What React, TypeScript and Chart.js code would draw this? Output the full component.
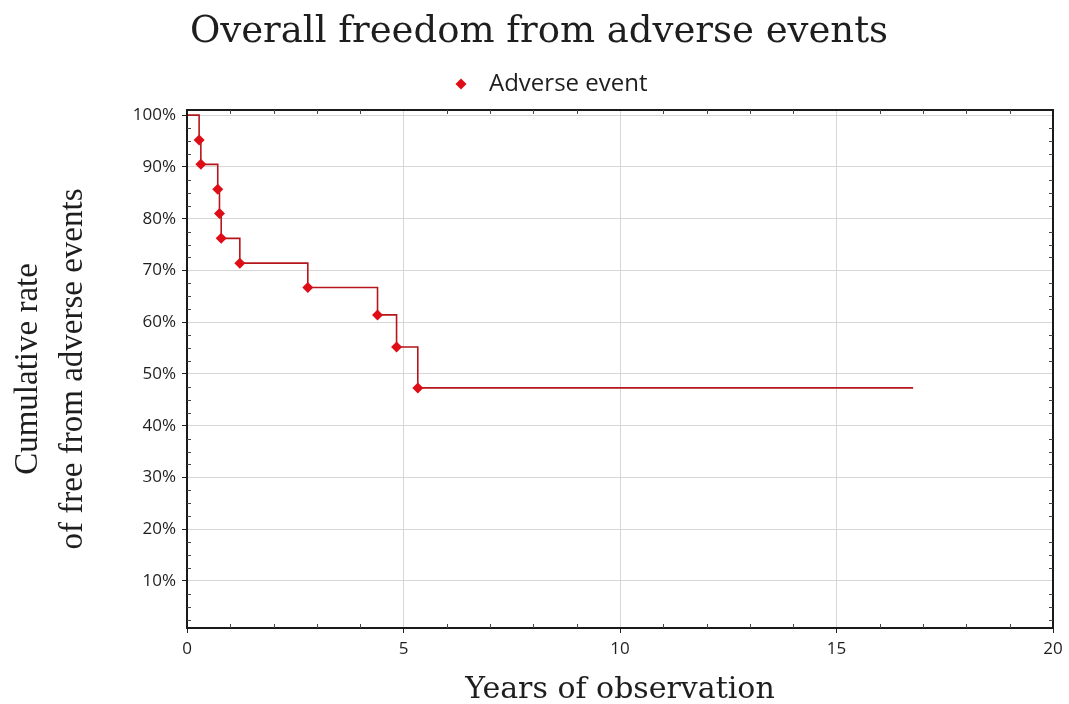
import React, { useEffect, useRef } from "react";
import { Chart, registerables } from "chart.js";

Chart.register(...registerables);

const chartTitle = "Overall freedom from adverse events";
const seriesLabel = "Adverse event";
const xAxisTitle = "Years of observation";
const yAxisTitleLines = ["Cumulative rate", "of free from adverse events"];

// Kaplan–Meier step points (years, % free from adverse events)
const years = [0, 0.28, 0.32, 0.71, 0.75, 0.79, 1.22, 2.79, 4.4, 4.84, 5.33, 16.77];
const freedom = [100, 95.2, 90.5, 85.7, 81.0, 76.2, 71.4, 66.7, 61.4, 55.2, 47.3, 47.3];
const eventMarker = [false, true, true, true, true, true, true, true, true, true, true, false];

const xTickValues = [0, 5, 10, 15, 20];
const yTickValues = [10, 20, 30, 40, 50, 60, 70, 80, 90, 100];
const xMin = 0;
const xMax = 20;
const yMin = 0.9;
const yMax = 101;

const LINE_COLOR = "#b4161b";
const MARKER_COLOR = "#de0d16";
const TEXT_COLOR = "#1e1e1e";

const decorPlugin = {
  id: "decor",
  afterDraw(chart: any) {
    const { ctx, chartArea: a, scales } = chart;
    ctx.save();
    // frame
    ctx.strokeStyle = "#1a1a1a";
    ctx.lineWidth = 2;
    ctx.strokeRect(a.left, a.top, a.right - a.left, a.bottom - a.top);
    // minor ticks
    ctx.lineWidth = 1;
    ctx.strokeStyle = "#444";
    ctx.beginPath();
    for (let v = xMin + 1; v < xMax; v++) {
      if (xTickValues.includes(v)) continue;
      const px = Math.round(scales.x.getPixelForValue(v)) + 0.5;
      ctx.moveTo(px, a.bottom);
      ctx.lineTo(px, a.bottom - 4);
      ctx.moveTo(px, a.top);
      ctx.lineTo(px, a.top + 4);
    }
    for (let v = 2.5; v <= 100; v += 2.5) {
      if (yTickValues.includes(v)) continue;
      const py = Math.round(scales.y.getPixelForValue(v)) + 0.5;
      ctx.moveTo(a.left, py);
      ctx.lineTo(a.left + 4, py);
      ctx.moveTo(a.right, py);
      ctx.lineTo(a.right - 4, py);
    }
    ctx.stroke();

    // title
    ctx.fillStyle = TEXT_COLOR;
    ctx.font = '37px "DejaVu Serif"';
    ctx.textAlign = "center";
    ctx.textBaseline = "alphabetic";
    ctx.fillText(chartTitle, 539, 42);

    // legend
    const lx = 461;
    const ly = 84;
    ctx.fillStyle = MARKER_COLOR;
    ctx.beginPath();
    ctx.moveTo(lx, ly - 5.5);
    ctx.lineTo(lx + 5.5, ly);
    ctx.lineTo(lx, ly + 5.5);
    ctx.lineTo(lx - 5.5, ly);
    ctx.closePath();
    ctx.fill();
    ctx.fillStyle = TEXT_COLOR;
    ctx.font = '24px "Open Sans"';
    ctx.textAlign = "left";
    ctx.textBaseline = "middle";
    ctx.fillText(seriesLabel, 489, ly);

    // x axis title
    ctx.font = '30px "DejaVu Serif"';
    ctx.textAlign = "center";
    ctx.textBaseline = "alphabetic";
    ctx.fillText(xAxisTitle, (a.left + a.right) / 2, 698);

    // y axis title
    ctx.font = '33px "Liberation Serif"';
    const cy = (a.top + a.bottom) / 2;
    const baselines = [37, 82];
    yAxisTitleLines.forEach((line, i) => {
      ctx.save();
      ctx.translate(baselines[i], cy);
      ctx.rotate(-Math.PI / 2);
      ctx.fillText(line, 0, 0);
      ctx.restore();
    });
    ctx.restore();
  },
};

export default function App() {
  const ref = useRef<HTMLCanvasElement | null>(null);
  useEffect(() => {
    document.body.style.margin = "0";
    const canvas = ref.current;
    if (!canvas) return;
    const points = years.map((x, i) => ({ x, y: freedom[i] }));
    const chart = new Chart(canvas, {
      type: "line",
      data: {
        datasets: [
          {
            label: seriesLabel,
            data: points,
            stepped: "before",
            borderColor: LINE_COLOR,
            borderWidth: 1.6,
            backgroundColor: MARKER_COLOR,
            pointBackgroundColor: MARKER_COLOR,
            pointBorderColor: MARKER_COLOR,
            pointStyle: "rectRot",
            pointRadius: eventMarker.map((m) => (m ? 5.5 : 0)),
            pointBorderWidth: 0,
            fill: false,
          },
        ],
      },
      options: {
        responsive: false,
        animation: false,
        layout: { padding: { left: 0, top: 110, right: 16, bottom: 0 } },
        plugins: {
          legend: { display: false },
          title: { display: false },
          tooltip: { enabled: false },
        },
        scales: {
          x: {
            type: "linear",
            min: xMin,
            max: xMax,
            border: { display: false },
            grid: { color: "#d6d6d6", lineWidth: 1, tickLength: 5, tickColor: "#222" },
            ticks: {
              padding: 6,
              color: TEXT_COLOR,
              font: { family: '"Open Sans"', size: 17 },
              maxRotation: 0,
            },
            afterBuildTicks(scale: any) {
              scale.ticks = xTickValues.map((value) => ({ value }));
            },
            afterFit(scale: any) {
              scale.height = 76;
            },
          },
          y: {
            type: "linear",
            min: yMin,
            max: yMax,
            border: { display: false },
            grid: { color: "#d6d6d6", lineWidth: 1, tickLength: 5, tickColor: "#222" },
            ticks: {
              padding: 6,
              color: TEXT_COLOR,
              font: { family: '"Open Sans"', size: 17 },
              callback: (v: any) => `${v}%`,
            },
            afterBuildTicks(scale: any) {
              scale.ticks = yTickValues.map((value) => ({ value }));
            },
            afterFit(scale: any) {
              scale.width = 187;
            },
          },
        },
      },
      plugins: [decorPlugin],
    });
    return () => chart.destroy();
  }, []);
  return <canvas ref={ref} width={1069} height={704} style={{ display: "block" }} />;
}
